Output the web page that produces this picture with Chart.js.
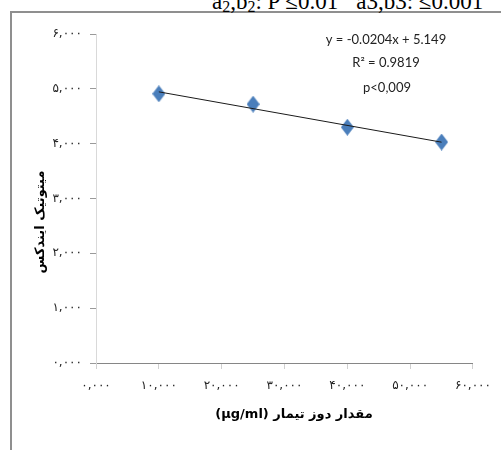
<!DOCTYPE html>
<html>
<head>
<meta charset="utf-8">
<script src="https://cdn.jsdelivr.net/npm/chart.js@4.4.0/dist/chart.umd.min.js"></script>
<style>
  body { margin: 0; background: #fff; }
  #wrap { position: relative; width: 501px; height: 450px; overflow: hidden; background: #fff; }
  #frame { position: absolute; left: 10px; top: 11px; width: 600px; height: 500px;
           border-left: 2px solid #8f8f8f; border-top: 2px solid #8f8f8f; }
  #head { position: absolute; left: 212px; top: -9px; font: 23px "Liberation Serif", serif;
          line-height: 22px; white-space: nowrap; color: #000; }
  #head sub { font-size: 16px; vertical-align: -3px; line-height: 0; }
  #head .b { margin-left: 18px; }
  canvas { position: absolute; left: 0; top: 0; }
</style>
</head>
<body>
<div id="wrap">
  <div id="frame"></div>
  <div id="head">a<sub>2</sub>,b<sub>2</sub>: P ≤0.01<span class="b">a3,b3: ≤0.001</span></div>
  <canvas id="chart" width="501" height="450"></canvas>
</div>
<script>
// داده‌ها
const doseX = [10, 25, 40, 55];
const mitoticIndex = [4.91, 4.72, 4.30, 4.03];
const trendX = [10, 55];
const trendY = [4.945, 4.027];
const yTickLabels = ['۰,۰۰۰', '۱,۰۰۰', '۲,۰۰۰', '۳,۰۰۰', '۴,۰۰۰', '۵,۰۰۰', '۶,۰۰۰'];
const xTickLabels = ['۰,۰۰۰', '۱۰,۰۰۰', '۲۰,۰۰۰', '۳۰,۰۰۰', '۴۰,۰۰۰', '۵۰,۰۰۰', '۶۰,۰۰۰'];
const equationLines = ['y = -0.0204x + 5.149', 'R² = 0.9819', 'p<0,009'];
const yTitle = 'میتوتیک ایندکس';
const xTitle = 'مقدار دوز تیمار (µg/ml)';

// diamond marker, a bit taller than wide
const diamond = document.createElement('canvas');
diamond.width = 13; diamond.height = 17;
const dctx = diamond.getContext('2d');
dctx.fillStyle = '#4a7ebb';
dctx.beginPath();
dctx.moveTo(6.5, 0); dctx.lineTo(13, 8.5); dctx.lineTo(6.5, 17); dctx.lineTo(0, 8.5);
dctx.closePath(); dctx.fill();

const textPlugin = {
  id: 'texts',
  afterDraw(chart) {
    const ctx = chart.ctx;
    ctx.save();
    ctx.fillStyle = '#222';
    ctx.textAlign = 'center';
    ctx.textBaseline = 'middle';
    ctx.font = '13px Lato';
    ctx.fillText(equationLines[0], 386, 40);
    ctx.fillText(equationLines[1], 386, 63);
    ctx.fillText(equationLines[2], 387, 88);
    // axis titles
    ctx.fillStyle = '#000';
    ctx.font = 'bold 13px "DejaVu Sans"';
    ctx.direction = 'rtl';
    ctx.fillText(xTitle, 294, 415);
    ctx.translate(41, 222);
    ctx.rotate(-Math.PI / 2);
    ctx.fillText(yTitle, 0, 0);
    ctx.restore();
  }
};

new Chart(document.getElementById('chart'), {
  type: 'scatter',
  data: {
    datasets: [
      {
        data: trendX.map((x, i) => ({ x: x, y: trendY[i] })),
        showLine: true,
        borderColor: '#1a1a1a',
        borderWidth: 1,
        pointRadius: 0
      },
      {
        data: doseX.map((x, i) => ({ x: x, y: mitoticIndex[i] })),
        pointStyle: diamond,
        pointRadius: 8
      }
    ]
  },
  options: {
    responsive: false,
    animation: false,
    layout: { padding: { left: 0, top: 34, right: 23, bottom: 0 } },
    plugins: { legend: { display: false }, tooltip: { enabled: false } },
    scales: {
      x: {
        min: 0, max: 60,
        ticks: {
          stepSize: 10,
          padding: 10,
          color: '#222',
          font: { family: 'DejaVu Sans', size: 12 },
          callback: (v, i) => xTickLabels[i]
        },
        grid: { drawOnChartArea: false, tickLength: 6, color: '#d0d0d0' },
        border: { color: '#868686', width: 1 },
        afterFit: (s) => { s.height = 450 - 363; }
      },
      y: {
        min: 0, max: 6,
        ticks: {
          stepSize: 1,
          padding: 8,
          color: '#222',
          font: { family: 'DejaVu Sans', size: 12 },
          callback: (v, i) => yTickLabels[i]
        },
        grid: { drawOnChartArea: false, tickLength: 6, color: '#9a9a9a' },
        border: { color: '#d9d9d9', width: 1 },
        afterFit: (s) => { s.width = 96; }
      }
    }
  },
  plugins: [textPlugin]
});
</script>
</body>
</html>
